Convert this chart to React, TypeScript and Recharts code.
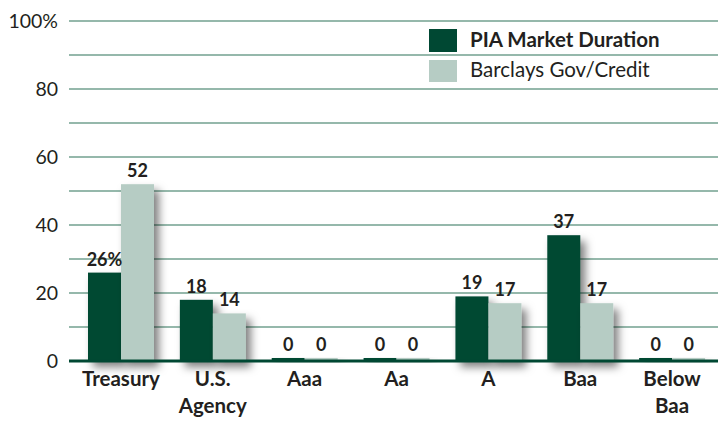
import React from 'react';
import { BarChart, Bar, XAxis, YAxis, CartesianGrid, LabelList } from 'recharts';

const categories = ['Treasury', 'U.S.\nAgency', 'Aaa', 'Aa', 'A', 'Baa', 'Below\nBaa'];
const seriesNames = ['PIA Market Duration', 'Barclays Gov/Credit'];
const piaValues = [26, 18, 0, 0, 19, 37, 0];
const barclaysValues = [52, 14, 0, 0, 17, 17, 0];
const piaLabels = ['26%', '18', '0', '0', '19', '37', '0'];
const barclaysLabels = ['52', '14', '0', '0', '17', '17', '0'];
const yTicks = [0, 10, 20, 30, 40, 50, 60, 70, 80, 90, 100];

const DARK = '#004833';
const LIGHT = '#b6ccc4';
const GRID = '#72a08f';
const TEXT = '#231f20';
const FONT = 'Lato, "Open Sans", sans-serif';

const data = categories.map((c, i) => ({
  category: c,
  pia: piaValues[i],
  barclays: barclaysValues[i],
  piaLabel: piaLabels[i],
  barclaysLabel: barclaysLabels[i],
}));

const ShadowRect = (props: any) => {
  const { x, y, width, height, fill } = props;
  if (width == null || height == null) return null;
  return <rect x={x} y={y} width={width} height={Math.max(height, 0)} fill={fill} filter="url(#barShadow)" />;
};

const XTick = (props: any) => {
  const { x, y, payload } = props;
  const lines = String(payload.value).split('\n');
  return (
    <text x={x} y={y} textAnchor="middle" fill={TEXT} fontFamily={FONT} fontWeight={700} fontSize={20.5}>
      {lines.map((l, i) => (
        <tspan key={i} x={x} y={y + 25 + i * 27}>{l}</tspan>
      ))}
    </text>
  );
};

const labelStyle = { fill: TEXT, fontFamily: FONT, fontWeight: 700, fontSize: 18 } as any;

export default function App() {
  return (
    <div style={{ position: 'absolute', left: 0, top: 0, width: 724, height: 423, background: '#fff' }}>
      <BarChart
        width={724}
        height={423}
        data={data}
        margin={{ top: 21, right: 6, bottom: 0, left: 0 }}
        barGap={0}
        barSize={33}
      >
        <defs>
          <filter id="barShadow" x="-60%" y="-30%" width="220%" height="180%">
            <feDropShadow dx="5" dy="6" stdDeviation="4" floodColor="#000" floodOpacity="0.5" />
          </filter>
        </defs>
        <CartesianGrid vertical={false} stroke={GRID} strokeWidth={1.5} />
        <YAxis
          domain={[0, 100]}
          ticks={yTicks}
          width={69}
          axisLine={false}
          tickLine={false}
          tickSize={0}
          tickMargin={11}
          tickFormatter={(v: number) => (v % 20 === 0 ? (v === 100 ? '100%' : String(v)) : '')}
          tick={{ fill: TEXT, fontFamily: FONT, fontSize: 19.5 }}
        />
        <XAxis
          dataKey="category"
          height={62}
          padding={{ left: 6, right: 0 }}
          axisLine={{ stroke: DARK, strokeWidth: 3 }}
          tickLine={false}
          tickSize={0}
          tickMargin={0}
          interval={0}
          tick={<XTick />}
        />
        <Bar dataKey="pia" fill={DARK} isAnimationActive={false} minPointSize={3} shape={<ShadowRect />}>
          <LabelList dataKey="piaLabel" position="top" offset={7} style={labelStyle} />
        </Bar>
        <Bar dataKey="barclays" fill={LIGHT} isAnimationActive={false} minPointSize={3} shape={<ShadowRect />}>
          <LabelList dataKey="barclaysLabel" position="top" offset={7} style={labelStyle} />
        </Bar>
      </BarChart>
      <div style={{ position: 'absolute', left: 429, top: 29, fontFamily: FONT, color: TEXT, fontSize: 20.5 }}>
        <div style={{ display: 'flex', alignItems: 'center', height: 23 }}>
          <div style={{ width: 28, height: 23, background: DARK }} />
          <span style={{ marginLeft: 13, fontWeight: 700, position: 'relative', top: -2 }}>{seriesNames[0]}</span>
        </div>
        <div style={{ display: 'flex', alignItems: 'center', height: 22, marginTop: 8 }}>
          <div style={{ width: 28, height: 22, background: LIGHT }} />
          <span style={{ marginLeft: 13, position: 'relative', top: -2 }}>{seriesNames[1]}</span>
        </div>
      </div>
    </div>
  );
}
